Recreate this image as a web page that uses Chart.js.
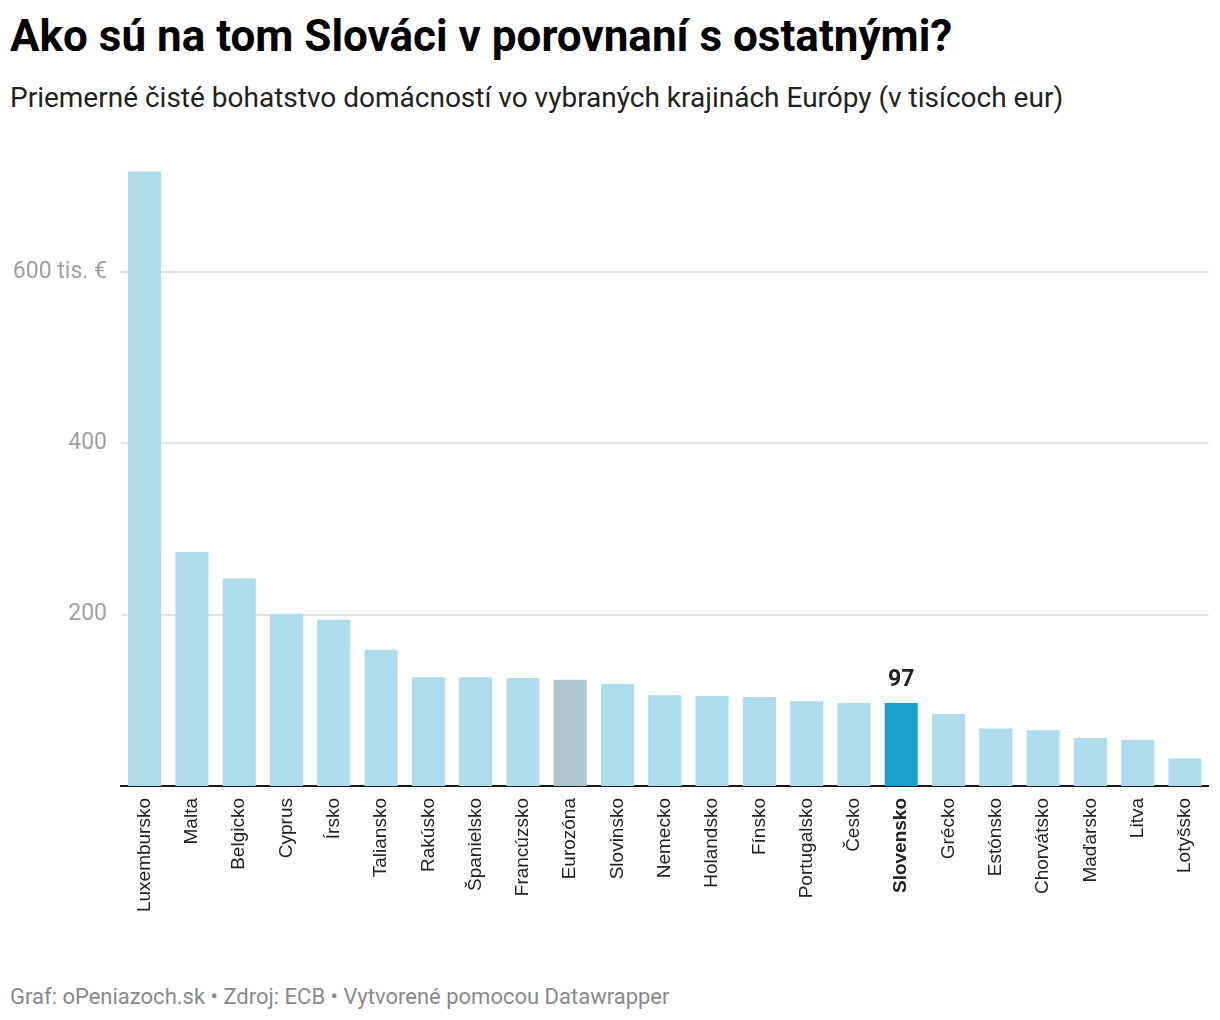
<!DOCTYPE html>
<html>
<head>
<meta charset="utf-8">
<script src="https://cdn.jsdelivr.net/npm/chart.js@4.4.1/dist/chart.umd.min.js"></script>
<style>
    body { margin: 0; background: #fff; font-family: Roboto, sans-serif; }
    .wrap { position: relative; width: 1220px; height: 1020px; overflow: hidden; }
    h1 { position: absolute; left: 10px; top: 10px; margin: 0; font-size: 44px; font-weight: 700; color: #000; }
    .sub { position: absolute; left: 10px; top: 81px; margin: 0; font-size: 28px; color: #222; }
    .foot { position: absolute; left: 10px; top: 984px; font-size: 22px; color: #8a8a8a; }
    .chart-box { position: absolute; left: 0; top: 140px; width: 1220px; height: 800px; }
</style>
</head>
<body>
<div class="wrap">
    <h1>Ako sú na tom Slováci v porovnaní s ostatnými?</h1>
    <p class="sub">Priemerné čisté bohatstvo domácností vo vybraných krajinách Európy (v tisícoch eur)</p>
    <div class="chart-box"><canvas id="wealthChart"></canvas></div>
    <div class="foot">Graf: oPeniazoch.sk • Zdroj: ECB • Vytvorené pomocou Datawrapper</div>
</div>
<script>
// Data
var countries = ['Luxembursko', 'Malta', 'Belgicko', 'Cyprus', 'Írsko', 'Taliansko', 'Rakúsko', 'Španielsko',
    'Francúzsko', 'Eurozóna', 'Slovinsko', 'Nemecko', 'Holandsko', 'Fínsko', 'Portugalsko', 'Česko',
    'Slovensko', 'Grécko', 'Estónsko', 'Chorvátsko', 'Maďarsko', 'Litva', 'Lotyšsko'];
var wealth = [717, 273, 242, 201, 194, 159, 127, 127, 126, 124, 119, 106, 105, 104, 99, 97,
    97, 84, 67, 65, 56, 54, 32];
var yTicks = [200, 400, 600];
var yTickLabels = ['200', '400', '600 tis. €'];

var highlight = 'Slovensko';
var average = 'Eurozóna';

var barColors = countries.map(function (c) {
    if (c === highlight) return '#18a1cd';
    if (c === average) return '#adc6d0';
    return '#aedcec';
});

// label above highlighted bar
var valueLabel = {
    id: 'valueLabel',
    afterDatasetsDraw: function (chart) {
        var i = countries.indexOf(highlight);
        var bar = chart.getDatasetMeta(0).data[i];
        var ctx = chart.ctx;
        ctx.save();
        ctx.font = 'bold 23px Roboto';
        ctx.fillStyle = '#222';
        ctx.textAlign = 'center';
        ctx.textBaseline = 'alphabetic';
        ctx.fillText(String(wealth[i]), bar.x, bar.y - 17);
        ctx.restore();
    }
};

var ctx = document.getElementById('wealthChart').getContext('2d');
var wealthChart = new Chart(ctx, {
    type: 'bar',
    data: {
        labels: countries,
        datasets: [{
            data: wealth,
            backgroundColor: barColors,
            borderWidth: 0,
            categoryPercentage: 1,
            barPercentage: 0.7
        }]
    },
    options: {
        responsive: true,
        maintainAspectRatio: false,
        animation: false,
        layout: { padding: { top: 29, right: 10, left: 0, bottom: 0 } },
        plugins: {
            legend: { display: false },
            tooltip: { enabled: false }
        },
        scales: {
            y: {
                min: 0,
                max: 720,
                afterBuildTicks: function (scale) {
                    scale.ticks = yTicks.map(function (v) { return { value: v }; });
                },
                afterFit: function (scale) { scale.width = 121; },
                grid: { color: '#e3e3e3', lineWidth: 2, drawTicks: false },
                border: { display: false },
                ticks: {
                    padding: 14,
                    color: '#a0a0a0',
                    font: { family: 'Roboto', size: 23 },
                    callback: function (value) {
                        var k = yTicks.indexOf(value);
                        return k >= 0 ? yTickLabels[k] : '';
                    }
                }
            },
            x: {
                afterFit: function (scale) { scale.height = 154; },
                grid: { display: false, drawTicks: false },
                border: { display: true, color: '#1a1a1a', width: 2 },
                ticks: {
                    padding: 12,
                    minRotation: 90,
                    maxRotation: 90,
                    autoSkip: false,
                    color: '#222',
                    font: function (c) {
                        var isHl = c.tick && countries[c.index] === highlight;
                        return { family: 'Liberation Sans', size: 19, weight: isHl ? 'bold' : 'normal' };
                    }
                }
            }
        }
    },
    plugins: [valueLabel]
});
</script>
</body>
</html>
